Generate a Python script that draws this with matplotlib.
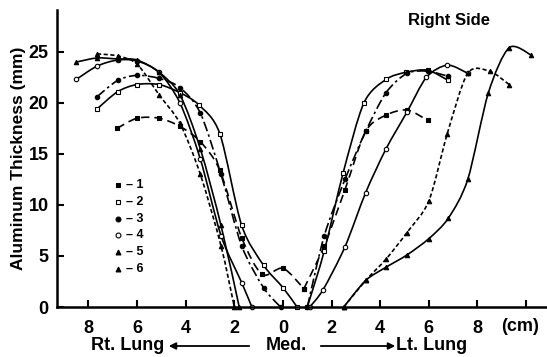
import matplotlib
matplotlib.use("Agg")
import matplotlib.pyplot as plt
import numpy as np
from matplotlib.patches import FancyArrowPatch, PathPatch
from matplotlib.path import Path

plt.rcParams['font.family'] = ['Liberation Sans', 'DejaVu Sans']
plt.rcParams['font.weight'] = 'bold'

# position in cm (negative = right lung side, positive = left lung side)
s1_x_left = [-6.83, -6.0, -5.1, -4.24, -3.4, -2.6, -1.7, -0.86, 0.0, 0.86]
s1_y_left = [17.5, 18.5, 18.5, 17.7, 16.2, 13.4, 6.8, 3.2, 3.8, 1.8]
s1_x_right = [0.86, 1.7, 2.55, 3.4, 4.24, 5.1, 5.95]
s1_y_right = [1.8, 6.0, 11.5, 17.2, 18.8, 19.3, 18.3]

s2_x_left = [-7.65, -6.8, -6.0, -5.1, -4.24, -3.46, -2.6, -1.7, -0.8, 0.0, 0.58]
s2_y_left = [19.4, 21.1, 21.8, 21.8, 21.0, 19.8, 17.0, 8.0, 4.1, 1.9, 0.0]
s2_x_right = [1.0, 1.7, 2.47, 3.33, 4.24, 5.07, 5.95, 6.8]
s2_y_right = [0.0, 5.5, 13.1, 20.0, 22.3, 23.0, 23.2, 22.2]

s3_x_left = [-7.65, -6.8, -6.0, -5.1, -4.24, -3.4, -2.55, -1.7, -0.8, -0.1]
s3_y_left = [20.6, 22.2, 22.7, 22.4, 21.5, 19.0, 13.0, 6.0, 1.9, 0.0]
s3_x_right = [1.0, 1.7, 2.55, 3.4, 4.24, 5.1, 5.95, 6.8]
s3_y_right = [0.0, 7.0, 12.5, 17.2, 21.0, 22.9, 23.1, 22.6]

s4_x_left = [-8.5, -7.65, -6.8, -6.0, -5.1, -4.24, -3.4, -2.55, -1.7, -1.28]
s4_y_left = [22.3, 23.6, 24.2, 24.1, 23.0, 20.0, 14.5, 7.0, 2.4, 0.0]
s4_x_right = [1.1, 1.65, 2.55, 3.4, 4.24, 5.1, 5.9, 6.76, 7.6]
s4_y_right = [0.0, 1.7, 5.9, 11.2, 15.5, 19.1, 22.5, 23.7, 22.9]

s5_x_left = [-8.5, -7.65, -6.8, -6.0, -5.1, -4.24, -3.4, -2.55, -1.8]
s5_y_left = [24.0, 24.4, 24.3, 24.2, 23.0, 20.8, 15.5, 8.0, 0.0]
s5_x_right = [2.5, 3.4, 4.24, 5.1, 6.0, 6.8, 7.6, 8.45, 9.3, 10.2]
s5_y_right = [0.0, 2.6, 3.9, 5.1, 6.7, 8.7, 12.5, 21.0, 25.4, 24.7]

s6_x_left = [-7.65, -6.8, -6.0, -5.1, -4.24, -3.4, -2.55, -2.0]
s6_y_left = [24.8, 24.6, 23.8, 20.8, 18.0, 13.0, 6.0, 0.0]
s6_x_right = [2.5, 3.4, 4.24, 5.1, 6.0, 6.76, 7.6, 8.5, 9.3]
s6_y_right = [0.0, 2.6, 4.7, 7.3, 10.4, 17.0, 22.9, 23.1, 21.8]

series_labels = ['1', '2', '3', '4', '5', '6']
x_ticks = [-8, -6, -4, -2, 0, 2, 4, 6, 8, 10]
x_tick_labels = ['8', '6', '4', '2', '0', '2', '4', '6', '8', '']
y_ticks = [0, 5, 10, 15, 20, 25]

styles = [
    dict(marker='s', mfc='black', ls=(0, (5, 3))),
    dict(marker='s', mfc='white', ls='-'),
    dict(marker='o', mfc='black', ls=(0, (6, 2, 1.5, 2))),
    dict(marker='o', mfc='white', ls='-'),
    dict(marker='^', mfc='black', ls='-'),
    dict(marker='^', mfc='black', ls=(0, (2.5, 1.5))),
]
data = [
    (s1_x_left, s1_y_left, s1_x_right, s1_y_right),
    (s2_x_left, s2_y_left, s2_x_right, s2_y_right),
    (s3_x_left, s3_y_left, s3_x_right, s3_y_right),
    (s4_x_left, s4_y_left, s4_x_right, s4_y_right),
    (s5_x_left, s5_y_left, s5_x_right, s5_y_right),
    (s6_x_left, s6_y_left, s6_x_right, s6_y_right),
]


def smooth_path(xs, ys, k=1.0 / 7.0):
    """Cardinal-spline curve through the points as cubic Bezier path segments."""
    p = np.column_stack([xs, ys]).astype(float)
    n = len(p)
    verts = [p[0]]
    codes = [Path.MOVETO]
    for i in range(n - 1):
        p0 = p[i - 1] if i > 0 else p[i]
        p1 = p[i]
        p2 = p[i + 1]
        p3 = p[i + 2] if i + 2 < n else p[i + 1]
        c1 = p1 + (p2 - p0) * k
        c2 = p2 - (p3 - p1) * k
        verts += [c1, c2, p2]
        codes += [Path.CURVE4] * 3
    return Path(verts, codes)


fig = plt.figure(figsize=(5.47, 3.57), dpi=100)
ax = fig.add_axes([0.104, 0.140, 0.896, 0.832])
ax.set_xlim(-9.3, 10.86)
ax.set_ylim(0, 29.1)

for (xl, yl, xr, yr), st in zip(data, styles):
    for xs, ys in ((xl, yl), (xr, yr)):
        patch = PathPatch(smooth_path(xs, ys), facecolor='none', edgecolor='black',
                          lw=1.2, linestyle=st['ls'], zorder=3)
        ax.add_patch(patch)
        ax.plot(xs, ys, ls='none', marker=st['marker'], ms=3.2, mfc=st['mfc'],
                mec='black', mew=0.8, clip_on=False, zorder=4)

for s in ('top', 'right'):
    ax.spines[s].set_visible(False)
for s in ('left', 'bottom'):
    ax.spines[s].set_linewidth(1.8)
    ax.spines[s].set_zorder(5)

ax.set_xticks(x_ticks)
ax.set_xticklabels(x_tick_labels)
ax.set_yticks(y_ticks)
ax.tick_params(direction='in', length=5, width=1.5, labelsize=13)
ax.tick_params(axis='x', pad=9)
ax.tick_params(axis='y', pad=6)
ax.set_ylabel('Aluminum Thickness (mm)', fontsize=12.5, fontweight='bold', labelpad=2)

ax.text(9.75, -1.05, '(cm)', fontsize=13, ha='center', va='top', fontweight='bold')
ax.text(0.80, 0.966, 'Right Side', transform=ax.transAxes, fontsize=12,
        fontweight='bold', ha='center', va='center')

# legend
leg_x = 0.124
leg_y0 = 0.411
for i, (st, lab) in enumerate(zip(styles, series_labels)):
    yy = leg_y0 - i * 0.0565
    ax.plot([leg_x], [yy], transform=ax.transAxes, marker=st['marker'], ms=3.5,
            mfc=st['mfc'], mec='black', mew=0.8, ls='none', clip_on=False)
    ax.text(leg_x + 0.018, yy, '\u2013 ' + lab, transform=ax.transAxes,
            fontsize=9, fontweight='bold', va='center', ha='left')

# bottom annotation
yb = 11 / 357
fig.text(128 / 547, yb, 'Rt. Lung', fontsize=13, fontweight='bold', ha='center', va='center')
fig.text(286 / 547, yb, 'Med.', fontsize=13, fontweight='bold', ha='center', va='center')
fig.text(432 / 547, yb, 'Lt. Lung', fontsize=13, fontweight='bold', ha='center', va='center')
for x0, x1 in ((252, 166), (318, 398)):
    arr = FancyArrowPatch((x0 / 547, yb), (x1 / 547, yb), transform=fig.transFigure,
                          arrowstyle='-|>', mutation_scale=10, color='black', lw=1.3)
    fig.patches.append(arr)

fig.savefig('out.png', dpi=100)
